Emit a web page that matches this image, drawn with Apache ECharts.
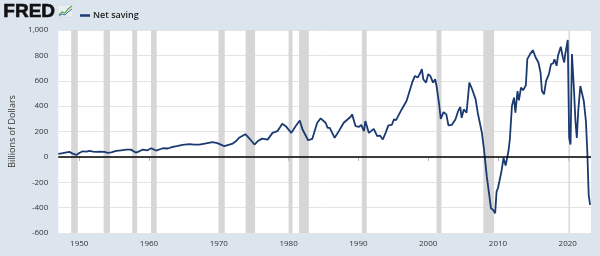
<!DOCTYPE html>
<html>
<head>
<meta charset="utf-8">
<script src="https://cdn.jsdelivr.net/npm/echarts@6/dist/echarts.min.js"></script>
<style>
html,body{margin:0;padding:0;background:#dce5ee;}
#c{width:600px;height:256px;}
</style>
</head>
<body>
<div id="c"></div>
<script>
const seriesName = 'Net saving';
const years = [1947.0,1947.5,1948.0,1948.6,1949.0,1949.6,1950.0,1950.5,1951.0,1951.5,1952.0,1952.4,1953.0,1953.6,1954.1,1954.6,1955.3,1956.0,1956.7,1957.4,1958.1,1958.6,1959.1,1959.8,1960.3,1961.0,1962.0,1962.7,1963.4,1964.0,1964.8,1965.8,1966.5,1967.2,1968.0,1969.1,1969.8,1970.3,1970.8,1971.4,1972.0,1972.5,1972.9,1973.8,1974.3,1974.7,1975.1,1975.6,1976.2,1977.0,1977.7,1978.4,1978.8,1979.1,1979.6,1980.0,1980.4,1981.0,1981.6,1982.0,1982.2,1982.8,1983.4,1984.1,1984.6,1985.3,1985.6,1985.9,1986.6,1987.2,1987.9,1988.9,1989.1,1989.6,1990.1,1990.4,1990.8,1991.0,1991.5,1992.2,1992.7,1993.1,1993.5,1993.9,1994.3,1994.8,1995.1,1995.4,1996.2,1996.9,1997.2,1997.7,1998.1,1998.5,1998.9,1999.1,1999.3,1999.7,2000.0,2000.3,2000.7,2001.0,2001.2,2001.6,2001.8,2002.2,2002.6,2002.9,2003.4,2003.9,2004.3,2004.6,2004.8,2005.1,2005.5,2005.9,2006.3,2006.8,2007.1,2007.2,2007.7,2008.0,2008.4,2008.5,2009.0,2009.3,2009.6,2009.8,2010.0,2010.5,2010.8,2011.1,2011.5,2011.7,2012.0,2012.3,2012.5,2012.8,2013.0,2013.3,2013.6,2014.0,2014.2,2014.6,2015.0,2015.4,2015.8,2016.1,2016.3,2016.6,2016.9,2017.3,2017.6,2017.9,2018.1,2018.4,2018.6,2019.0,2019.3,2019.5,2019.6,2020.0,2020.2,2020.4,2020.6,2020.9,2021.1,2021.3,2021.5,2021.8,2022.0,2022.3,2022.6,2022.8,2023.0,2023.2];
const values = [23,28,33,39,28,15,30,44,42,47,42,39,42,39,31,36,47,52,57,57,34,44,57,52,68,50,68,66,78,84,94,100,97,97,105,116,108,97,84,95,105,125,150,179,150,125,97,125,144,136,189,203,235,261,242,215,189,242,287,216,229,131,142,269,303,269,229,229,150,203,269,316,335,242,236,253,203,282,189,221,163,168,137,189,248,253,295,290,374,440,493,585,638,625,665,691,612,585,652,638,585,612,559,401,300,353,335,248,253,295,361,393,308,374,348,585,533,453,348,361,189,57,-154,-162,-405,-418,-444,-273,-247,-114,-8,-69,44,137,401,467,348,519,446,546,525,564,770,810,841,783,744,665,519,493,599,652,731,736,770,718,797,868,783,744,797,921,150,97,810,519,282,150,361,559,559,440,282,44,-299,-378];
const recessionStart = [1948.85,1953.5,1957.6,1960.3,1969.95,1973.85,1980.0,1981.5,1990.5,2001.2,2007.9,2020.1];
const recessionEnd   = [1949.8,1954.4,1958.3,1961.1,1970.85,1975.2,1980.55,1982.9,1991.2,2001.9,2009.45,2020.3];
const xTickYears = [1950,1960,1970,1980,1990,2000,2010,2020];
const yMin = -600, yMax = 1000, yStep = 200;
const xMin = 1947, xMax = 2023.33;

const lineData = years.map((y, i) => [y, values[i]]);
const recAreas = recessionStart.map((s, i) => [{xAxis: s}, {xAxis: recessionEnd[i]}]);

const chart = echarts.init(document.getElementById('c'), null, {renderer: 'canvas'});
chart.setOption({
  backgroundColor: '#dce5ee',
  animation: false,
  textStyle: {fontFamily: 'Open Sans, Noto Sans, sans-serif'},
  graphic: [
    {type: 'text', left: 3, top: 2, style: {text: 'FRED', fontSize: 19, fontWeight: 900, fontFamily: 'Liberation Sans, Arial, sans-serif', fill: '#111', stroke: '#111', lineWidth: 0.6}},
    {type: 'rect', shape: {x: 58, y: 5, width: 15, height: 12}, style: {fill: '#e9eef2', stroke: '#c9d3dc', lineWidth: 0.5}},
    {type: 'polyline', shape: {points: [[59,15],[62,12],[65,13],[68,9],[72,6]]}, style: {stroke: '#5aa845', lineWidth: 1.2, fill: null}},
    {type: 'polyline', shape: {points: [[59,16],[62,14],[65,15],[68,12],[72,9]]}, style: {stroke: '#3a6fb0', lineWidth: 1, fill: null}}
  ],
  legend: {
    left: 75, top: 6, itemGap: 4,
    data: [seriesName],
    icon: 'rect', itemWidth: 10, itemHeight: 2.5,
    textStyle: {fontSize: 9, fontWeight: 600, color: '#222', padding: [0, 0, 0, -2]}
  },
  grid: {left: 57, right: 9, top: 30, bottom: 23, show: true, backgroundColor: '#ffffff', borderWidth: 0},
  xAxis: {
    type: 'value', min: xMin, max: xMax, interval: 1,
    axisLine: {show: false},
    axisTick: {show: true, customValues: xTickYears, length: 4, lineStyle: {color: '#aab4bf'}},
    axisLabel: {customValues: xTickYears, fontSize: 8, color: '#333', margin: 7,
      formatter: v => (v % 10 === 0 ? String(v) : '')},
    splitLine: {show: false}
  },
  yAxis: {
    type: 'value', min: yMin, max: yMax, interval: yStep,
    name: 'Billions of Dollars', nameLocation: 'middle', nameGap: 40, nameRotate: 90,
    nameTextStyle: {fontSize: 9, color: '#333'},
    axisLine: {show: false}, axisTick: {show: false},
    axisLabel: {fontSize: 8, color: '#333', margin: 10, formatter: v => v.toLocaleString('en-US')},
    splitLine: {lineStyle: {color: '#e4e4e4', width: 1}}
  },
  series: [
    {
      name: 'recessions', type: 'line', data: [], z: 1, silent: true,
      markArea: {silent: true, itemStyle: {color: '#d6d6d6', opacity: 1}, data: recAreas}
    },
    {
      name: seriesName, type: 'line', data: lineData, z: 3,
      showSymbol: false, symbol: 'none',
      lineStyle: {color: '#1b3a70', width: 1.8},
      itemStyle: {color: '#1b3a70'},
      markLine: {silent: true, symbol: 'none', label: {show: false},
        lineStyle: {color: '#000', width: 1.5, type: 'solid'}, data: [{yAxis: 0}]}
    }
  ]
});
</script>
</body>
</html>
